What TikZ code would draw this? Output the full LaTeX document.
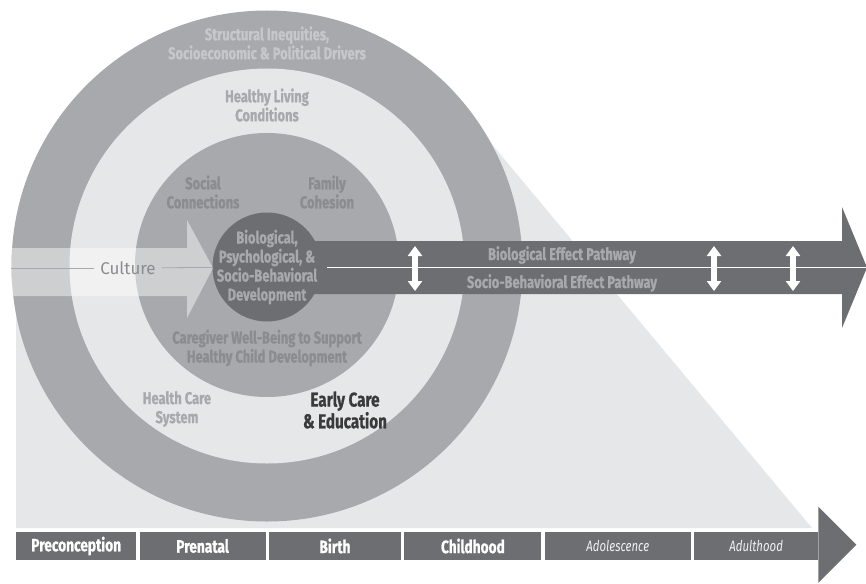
\documentclass[tikz,border=0pt]{standalone}
\usepackage{fontspec}
\setmainfont{Fira Sans}[FakeStretch=0.76, BoldFeatures={FakeBold=0.8}]
\newfontfamily\culturefont{Fira Sans}
\usetikzlibrary{positioning,arrows.meta}

\definecolor{ringgray}{HTML}{A7A9AC}
\definecolor{palegray}{HTML}{E6E7E8}
\definecolor{coregray}{HTML}{6D6E71}
\definecolor{ringtext}{HTML}{C6C7C9}
\definecolor{deeptext}{HTML}{8B8C8F}
\definecolor{earlytext}{HTML}{3A3A3C}

\tikzset{
  ring/.style={circle, inner sep=0pt, minimum size=#1},
  lbl/.style={align=center, inner sep=0pt, font=\bfseries\fontsize{17}{19}\selectfont},
  phase/.style={fill=coregray, text=white, minimum height=28pt, inner sep=0pt,
    font=\bfseries\fontsize{18}{18}\selectfont},
  later/.style={phase, text=white!90!coregray, font=\itshape\fontsize{15}{16}\selectfont},
  cultline/.style={ringgray, line width=0.8pt},
  updown/.style={white, line width=6pt,
    {Triangle[length=10pt,width=14pt]}-{Triangle[length=10pt,width=14pt]}}
}

\begin{document}
\begin{tikzpicture}[x=1pt, y=-1pt]
  \useasboundingbox (0,0) rectangle (866,583);

  \fill[palegray] (16,265) -- (16,528) -- (812,528) -- (455,100) -- cycle;

  \node[ring=511pt, fill=ringgray] (outer) at (267,266) {};
  \node[ring=395pt, fill=palegray] (living) at (267,266) {};
  \node[ring=264pt, fill=ringgray] (family) at (267,265) {};

  \fill[white, opacity=.45] (12,248) -- (187,248) -- (187,220) -- (213,268)
    -- (187,318) -- (187,296) -- (12,296) -- cycle;
  \fill[coregray] (267,241) -- (842,241) -- (842,207) -- (867,267.5)
    -- (842,328) -- (842,294) -- (267,294) -- cycle;
  \node[ring=109pt, fill=coregray] (core) at (267,267) {};

  \node[font=\culturefont\fontsize{17}{18}\selectfont, text=deeptext, inner sep=6pt]
    (culture) at (128,268) {Culture};
  \draw[cultline] (culture -| outer.west) -- (culture);
  \draw[cultline] (culture) -- (core);

  \coordinate (pathstart) at (327,267.5);
  \coordinate (pathend) at (866,267.5);
  \draw[white, line width=0.8pt] (pathstart) -- (pathend);
  \foreach \x [count=\i] in {415,714,793} {
    \coordinate (top\i) at (\x,246);
    \coordinate (bot\i) at (\x,291);
    \draw[updown] (top\i) -- (bot\i);
  }

  \node[lbl, text=ringtext] (structural) at (267,43)
    {Structural Inequities,\\Socioeconomic \& Political Drivers};
  \node[lbl, text=ringgray] (livingtext) at (267,105) {Healthy Living\\Conditions};
  \node[lbl, text=deeptext] (social) at (203,192) {Social\\Connections};
  \node[lbl, text=deeptext] (cohesion) at (327,192) {Family\\Cohesion};
  \node[lbl, text=ringgray] (coretext) at (267,267)
    {Biological,\\Psychological, \&\\Socio-Behavioral\\Development};
  \node[lbl, text=deeptext] (caregiver) at (267,348)
    {Caregiver Well-Being to Support\\Healthy Child Development};
  \node[lbl, text=ringgray] (health) at (177,409) {Health Care\\System};
  \node[lbl, text=earlytext, font=\bfseries\fontsize{20}{17.5}\selectfont]
    (early) at (345,410) {Early Care\\\& Education};
  \node[lbl, text=ringgray] (bio) at (562,255) {Biological Effect Pathway};
  \node[lbl, text=ringgray] (socio) at (562,283) {Socio-Behavioral Effect Pathway};

  \node[phase, minimum width=120pt, anchor=west] (precon) at (16,546) {Preconception};
  \node[phase, minimum width=126pt, right=3pt of precon] (prenatal) {Prenatal};
  \node[phase, minimum width=132pt, right=3pt of prenatal] (birth) {Birth};
  \node[phase, minimum width=137pt, right=3pt of birth] (child) {Childhood};
  \node[later, minimum width=146pt, right=3pt of child] (adol) {Adolescence};
  \node[later, minimum width=124pt, right=3pt of adol] (adult) {Adulthood};
  \fill[coregray] (adult.north east) -- ++(0,-25) -- ++(38,38) -- ++(-38,38)
    -- (adult.south east) -- cycle;
\end{tikzpicture}
\end{document}
